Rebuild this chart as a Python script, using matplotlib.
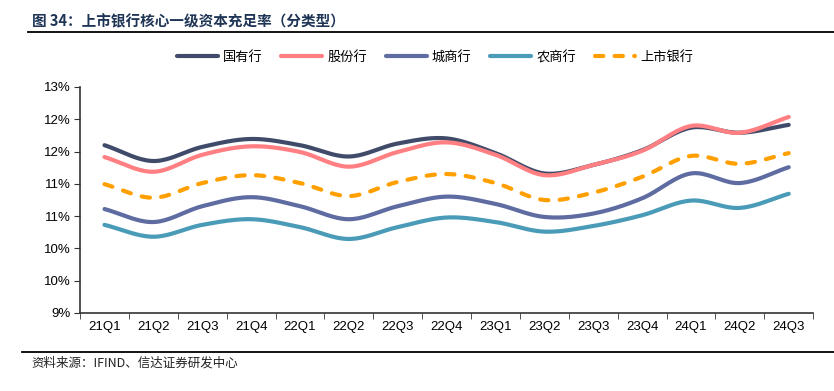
import numpy as np
import matplotlib
matplotlib.use("Agg")
import matplotlib.pyplot as plt
from matplotlib.lines import Line2D

plt.rcParams['font.family'] = ['Liberation Sans', 'Noto Sans CJK SC', 'DejaVu Sans']

quarters = ["21Q1", "21Q2", "21Q3", "21Q4", "22Q1", "22Q2", "22Q3", "22Q4",
            "23Q1", "23Q2", "23Q3", "23Q4", "24Q1", "24Q2", "24Q3"]

# core tier-1 capital ratio, %
state_banks = [11.97, 11.69, 11.94, 12.08, 11.97, 11.77, 12.00, 12.09,
               11.83, 11.47, 11.62, 11.88, 12.28, 12.19, 12.33]
joint_stock = [11.76, 11.50, 11.80, 11.95, 11.85, 11.59, 11.85, 12.02,
               11.80, 11.44, 11.62, 11.87, 12.31, 12.19, 12.47]
city_banks = [10.84, 10.61, 10.89, 11.05, 10.89, 10.66, 10.89, 11.06,
              10.93, 10.70, 10.76, 11.03, 11.47, 11.30, 11.58]
rural_banks = [10.56, 10.35, 10.56, 10.66, 10.52, 10.31, 10.52, 10.69,
               10.61, 10.44, 10.54, 10.73, 10.99, 10.86, 11.11]
listed_banks = [11.28, 11.04, 11.30, 11.44, 11.30, 11.07, 11.32, 11.46,
                11.30, 11.00, 11.13, 11.41, 11.78, 11.64, 11.83]

names = ["国有行", "股份行", "城商行", "农商行", "上市银行"]
colors = ["#404B69", "#FF7F82", "#5E6CA2", "#4A9BB7", "#FFA000"]
styles = ["-", "-", "-", "-", "--"]
DASH = (0, (2.0, 2.7))


def smooth(x, y, n=20):
    # catmull-rom style smoothing, like excel's "smoothed line"
    x = np.asarray(x, float)
    y = np.asarray(y, float)
    px = np.concatenate([[2 * x[0] - x[1]], x, [2 * x[-1] - x[-2]]])
    py = np.concatenate([[2 * y[0] - y[1]], y, [2 * y[-1] - y[-2]]])
    xs, ys = [], []
    t = np.linspace(0, 1, n, endpoint=False)
    for i in range(1, len(px) - 2):
        for p, out in ((px, xs), (py, ys)):
            p0, p1, p2, p3 = p[i - 1], p[i], p[i + 1], p[i + 2]
            m1 = (p2 - p0) / 2
            m2 = (p3 - p1) / 2
            h00 = 2 * t**3 - 3 * t**2 + 1
            h10 = t**3 - 2 * t**2 + t
            h01 = -2 * t**3 + 3 * t**2
            h11 = t**3 - t**2
            out.extend(h00 * p1 + h10 * m1 + h01 * p2 + h11 * m2)
    xs.append(x[-1])
    ys.append(y[-1])
    return np.array(xs), np.array(ys)


fig = plt.figure(figsize=(8.34, 3.91), dpi=100)
ax = fig.add_axes([0.096, 0.1995, 0.879, 0.578])

x = np.arange(len(quarters))
series = [state_banks, joint_stock, city_banks, rural_banks, listed_banks]
handles = []
for vals, name, c, ls in zip(series, names, colors, styles):
    sx, sy = smooth(x, vals)
    if ls == "--":
        ax.plot(sx, sy, color=c, lw=3, ls=DASH, dash_capstyle='round', zorder=3)
    else:
        ax.plot(sx, sy, color=c, lw=3, solid_capstyle='round', zorder=2)
    handles.append(Line2D([], [], color=c, lw=3,
                          ls=DASH if ls == "--" else "-",
                          dash_capstyle='round', solid_capstyle='round'))

ax.set_xlim(-0.5, len(quarters) - 0.5)
ax.set_ylim(9, 13)
yt = np.linspace(9, 13, 8)
ax.set_yticks(yt)
ax.set_yticklabels(["%.0f%%" % v for v in yt])
ax.set_xticks(x)
ax.set_xticklabels(quarters)
ax.set_xticks(np.arange(-0.5, len(quarters)), minor=True)
ax.tick_params(axis='x', which='major', length=0, pad=6, labelsize=9.5)
ax.tick_params(axis='x', which='minor', length=4, direction='out', color='#333333')
ax.tick_params(axis='y', length=4, direction='out', labelsize=9.5, pad=3, color='#333333')
for s in ["top", "right"]:
    ax.spines[s].set_visible(False)
for s in ["left", "bottom"]:
    ax.spines[s].set_color('#333333')
    ax.spines[s].set_linewidth(1.2)

fig.legend(handles, names, loc='center', bbox_to_anchor=(0.522, 0.853), ncol=5,
           frameon=False, handlelength=3.1, columnspacing=1.4,
           handletextpad=0.4, prop={'family': ['Noto Sans CJK SC'], 'size': 9.5})

fig.text(0.038, 0.945, "图 34：上市银行核心一级资本充足率（分类型）", fontsize=10.5,
         fontweight='bold', color='#1F3556', va='center',
         family=['Noto Sans CJK SC'])
fig.add_artist(Line2D([0.034, 1.0], [0.918, 0.918], color='black', lw=1.3))
fig.add_artist(Line2D([0.026, 1.0], [0.1, 0.1], color='black', lw=1.3))
fig.text(0.038, 0.072, "资料来源：IFIND、信达证券研发中心", fontsize=9,
         style='italic', color='#222222', va='center',
         family=['Noto Sans CJK SC'])

fig.savefig("out.png", dpi=100)
